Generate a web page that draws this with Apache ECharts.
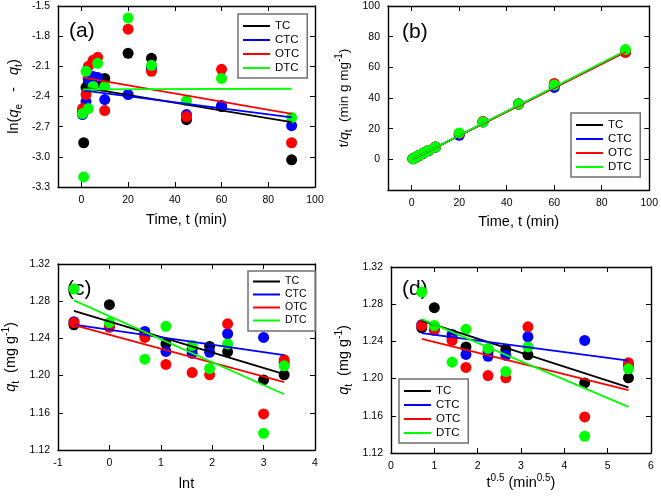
<!DOCTYPE html>
<html><head><meta charset="utf-8">
<script src="https://cdn.jsdelivr.net/npm/echarts@6/dist/echarts.min.js"></script>
<style>html,body{margin:0;padding:0;background:#fff}#c{width:661px;height:498px}</style>
</head><body><div id="c"></div>
<script>
const names = ['TC','CTC','OTC','DTC'];
const colors = ['#000000','#0000ff','#ff0000','#00ff00'];

// Panel (a): ln(qe - qt) vs time
const timeA = [0.5,1,2,3,5,7,10,20,30,45,60,90];
const lnTC  = [-2.55,-2.86,-2.31,-2.27,-2.27,-2.26,-2.22,-1.97,-2.02,-2.63,-2.50,-3.03];
const lnCTC = [-2.58,-2.55,-2.45,-2.23,-2.20,-2.21,-2.43,-2.38,-2.12,-2.58,-2.49,-2.69];
const lnOTC = [-2.52,-2.55,-2.38,-2.10,-2.04,-2.01,-2.54,-1.73,-2.15,-2.60,-2.13,-2.86];
const lnDTC = [-2.57,-3.20,-2.15,-2.52,-2.30,-2.07,-2.30,-1.62,-2.09,-2.44,-2.22,-2.61];
const fitTimeA = [0.5, 90];
const fitA_TC  = [-2.31, -2.655];
const fitA_CTC = [-2.34, -2.607];
const fitA_OTC = [-2.21, -2.573];
const fitA_DTC = [-2.33, -2.323];

// Panel (b): t/qt vs time
const tqTC  = [0.40,0.78,1.60,2.42,4.05,5.6,8.1,16.5,24.5,36.2,48.0,70.0];
const tqCTC = [0.40,0.79,1.60,2.40,4.05,5.7,8.0,15.7,24.4,36.0,46.9,70.3];
const tqOTC = [0.40,0.79,1.61,2.42,4.10,5.8,8.1,16.9,24.6,36.0,49.5,69.8];
const tqDTC = [0.39,0.77,1.62,2.43,4.05,5.8,8.0,17.2,24.3,36.1,48.4,71.6];
const fitB_TC  = [0.2, 70.2];
const fitB_CTC = [0.2, 70.4];
const fitB_OTC = [0.2, 70.0];
const fitB_DTC = [0.25, 70.8];

// Panels (c), (d): qt vs ln t and t^0.5
const lnT   = [-0.69,0,0.69,1.10,1.61,1.95,2.30,3.00,3.40];
const sqrtT = [0.71,1.00,1.41,1.73,2.24,2.65,3.16,4.47,5.48];
const qTC  = [1.2546,1.2762,1.244,1.234,1.229,1.2313,1.2256,1.1954,1.2008];
const qCTC = [1.258,1.253,1.2475,1.226,1.224,1.225,1.245,1.241,1.214];
const qOTC = [1.257,1.252,1.241,1.212,1.2033,1.2008,1.2557,1.1588,1.217];
const qDTC = [1.293,1.257,1.2177,1.253,1.2324,1.2076,1.234,1.138,1.2105];
const fitXC = [-0.69, 3.40];
const fitC_TC  = [1.2697, 1.2015];
const fitC_CTC = [1.2547, 1.2220];
const fitC_OTC = [1.2543, 1.1930];
const fitC_DTC = [1.2809, 1.1800];
const fitXD = [0.71, 5.48];
const fitD_TC  = [1.2624, 1.1905];
const fitD_CTC = [1.2488, 1.2193];
const fitD_OTC = [1.2427, 1.1876];
const fitD_DTC = [1.2639, 1.1696];

const FONT = 'Liberation Sans, Arial, sans-serif';
const zip = (xs, ys) => xs.map((x, i) => [x, ys[i]]);

function mkRich(fs) {
  return {
    n: {fontSize: fs, lineHeight: 20, fontFamily: FONT, color: '#000'},
    i: {fontSize: fs, lineHeight: 20, fontStyle: 'italic', fontFamily: FONT, color: '#000'},
    s: {fontSize: 10, lineHeight: 10, verticalAlign: 'bottom', fontFamily: FONT, color: '#000'},
    p: {fontSize: 10, lineHeight: 10, verticalAlign: 'top', fontFamily: FONT, color: '#000'}
  };
}

const grids = [
  {left: 58, top: 6, width: 257, height: 181},
  {left: 388, top: 6, width: 263, height: 184},
  {left: 58, top: 264, width: 257, height: 186},
  {left: 391, top: 267, width: 260, height: 186}
];

const axisLine = {show: true, onZero: false, lineStyle: {color: '#000', width: 1.4}};
const tick = (extra) => Object.assign({show: true, inside: true, length: 5, lineStyle: {color: '#000', width: 1}}, extra || {});
const lab = (extra) => Object.assign({color: '#000', fontSize: 10.5, fontFamily: FONT}, extra || {});

const xAxes = [], yAxes = [];
function addAxes(g, xc, yc) {
  xAxes.push(Object.assign({gridIndex: g, type: 'value', position: 'bottom', axisLine, splitLine: {show: false},
    axisTick: tick(xc.tickExtra), axisLabel: lab(Object.assign({margin: 8}, xc.labelExtra)),
    name: xc.name, nameLocation: 'middle', nameGap: xc.nameGap,
    nameTextStyle: {fontSize: xc.fs || 14.5, color: '#000', fontFamily: FONT, rich: mkRich(xc.fs || 14.5)}}, xc.range));
  xAxes.push(Object.assign({gridIndex: g, type: 'value', position: 'top', axisLine, splitLine: {show: false},
    axisTick: tick(xc.tickExtra), axisLabel: {show: false}}, xc.range));
  yAxes.push(Object.assign({gridIndex: g, type: 'value', position: 'left', axisLine, splitLine: {show: false},
    axisTick: tick(yc.tickExtra), axisLabel: lab(Object.assign({margin: 8}, yc.labelExtra)),
    name: yc.name, nameLocation: 'middle', nameRotate: 90, nameGap: yc.nameGap,
    nameTextStyle: {fontSize: yc.fs || 14.5, color: '#000', fontFamily: FONT, rich: mkRich(yc.fs || 14.5)}}, yc.range));
  yAxes.push(Object.assign({gridIndex: g, type: 'value', position: 'right', axisLine, splitLine: {show: false},
    axisTick: tick(yc.tickExtra), axisLabel: {show: false}}, yc.range));
}
const tvals = [0,20,40,60,80,100];
addAxes(0,
  {range: {min: -10, max: 100}, tickExtra: {customValues: tvals}, labelExtra: {customValues: tvals},
   name: '{n|Time, t (min)}', nameGap: 23},
  {range: {min: -3.3, max: -1.5, interval: 0.3}, labelExtra: {formatter: v => v.toFixed(1)},
   name: '{n|ln(}{i|q}{s|e}{n|   -   }{i|q}{s|t}{n|)}', nameGap: 34});
addAxes(1,
  {range: {min: -10, max: 100}, tickExtra: {customValues: tvals}, labelExtra: {customValues: tvals},
   name: '{n|Time, t (min)}', nameGap: 22},
  {range: {min: -20, max: 100, interval: 20}, labelExtra: {formatter: v => v === -20 ? '' : String(v)},
   name: '{n|t/}{i|q}{s|t}{n|  (min g mg}{p|-1}{n|)}', nameGap: 34, fs: 13.5});
addAxes(2,
  {range: {min: -1, max: 4, interval: 1}, name: '{n|lnt}', nameGap: 24},
  {range: {min: 1.12, max: 1.32, interval: 0.04}, labelExtra: {formatter: v => v.toFixed(2)},
   name: '{i|q}{s|t}{n|  (mg g}{p|-1}{n|)}', nameGap: 37});
addAxes(3,
  {range: {min: 0, max: 6, interval: 1}, name: '{n|t}{p|0.5}{n| (min}{p|0.5}{n|)}', nameGap: 19},
  {range: {min: 1.12, max: 1.32, interval: 0.04}, labelExtra: {formatter: v => v.toFixed(2)},
   name: '{i|q}{s|t}{n|  (mg g}{p|-1}{n|)}', nameGap: 37});

const series = [];
function addPanel(g, ptsX, ptsYs, fitX, fitYs) {
  ptsYs.forEach((ys, k) => series.push({
    type: 'scatter', name: names[k] + '_pts', xAxisIndex: 2*g, yAxisIndex: 2*g,
    data: zip(ptsX, ys), symbol: 'circle', symbolSize: 11, z: 2,
    itemStyle: {color: colors[k], opacity: 1}, emphasis: {disabled: true}
  }));
  fitYs.forEach((ys, k) => series.push({
    type: 'line', name: names[k], xAxisIndex: 2*g, yAxisIndex: 2*g, color: colors[k],
    data: zip(fitX, ys), showSymbol: false, symbol: 'none', z: 3,
    lineStyle: {color: colors[k], width: 1.8}, emphasis: {disabled: true}
  }));
}
addPanel(0, timeA, [lnTC, lnCTC, lnOTC, lnDTC], fitTimeA, [fitA_TC, fitA_CTC, fitA_OTC, fitA_DTC]);
addPanel(1, timeA, [tqTC, tqCTC, tqOTC, tqDTC], fitTimeA, [fitB_TC, fitB_CTC, fitB_OTC, fitB_DTC]);
addPanel(2, lnT, [qTC, qCTC, qOTC, qDTC], fitXC, [fitC_TC, fitC_CTC, fitC_OTC, fitC_DTC]);
addPanel(3, sqrtT, [qTC, qCTC, qOTC, qDTC], fitXD, [fitD_TC, fitD_CTC, fitD_OTC, fitD_DTC]);

function legend(left, top, fs, gap, pad) {
  return {orient: 'vertical', left, top, padding: pad, itemGap: gap, itemWidth: 27, itemHeight: 2,
    icon: 'rect', selectedMode: false, borderColor: '#707070', borderWidth: 1.5, backgroundColor: '#fff',
    textStyle: {fontSize: fs, color: '#000', fontFamily: FONT}, data: names, z: 10};
}

const panelLabel = (txt, x, y) => ({type: 'text', x, y, z: 1,
  style: {text: txt, font: '21px ' + FONT, fill: '#000', verticalAlign: 'middle'}});

const chart = echarts.init(document.getElementById('c'), null, {renderer: 'canvas'});
chart.setOption({
  animation: false,
  backgroundColor: '#fff',
  grid: grids,
  xAxis: xAxes,
  yAxis: yAxes,
  legend: [
    legend(238, 14, 11.5, 2, [6, 8, 4, 5]),
    legend(571, 113, 11.5, 2, [6, 8, 4, 5]),
    legend(248, 271, 10.5, 2, [5, 8, 5, 5]),
    legend(399, 379, 11.5, 2, [6, 8, 4, 5])
  ],
  graphic: [
    panelLabel('(a)', 69, 31),
    panelLabel('(b)', 402, 32),
    panelLabel('(c)', 67, 289),
    panelLabel('(d)', 402, 289)
  ],
  series
});
</script></body></html>
